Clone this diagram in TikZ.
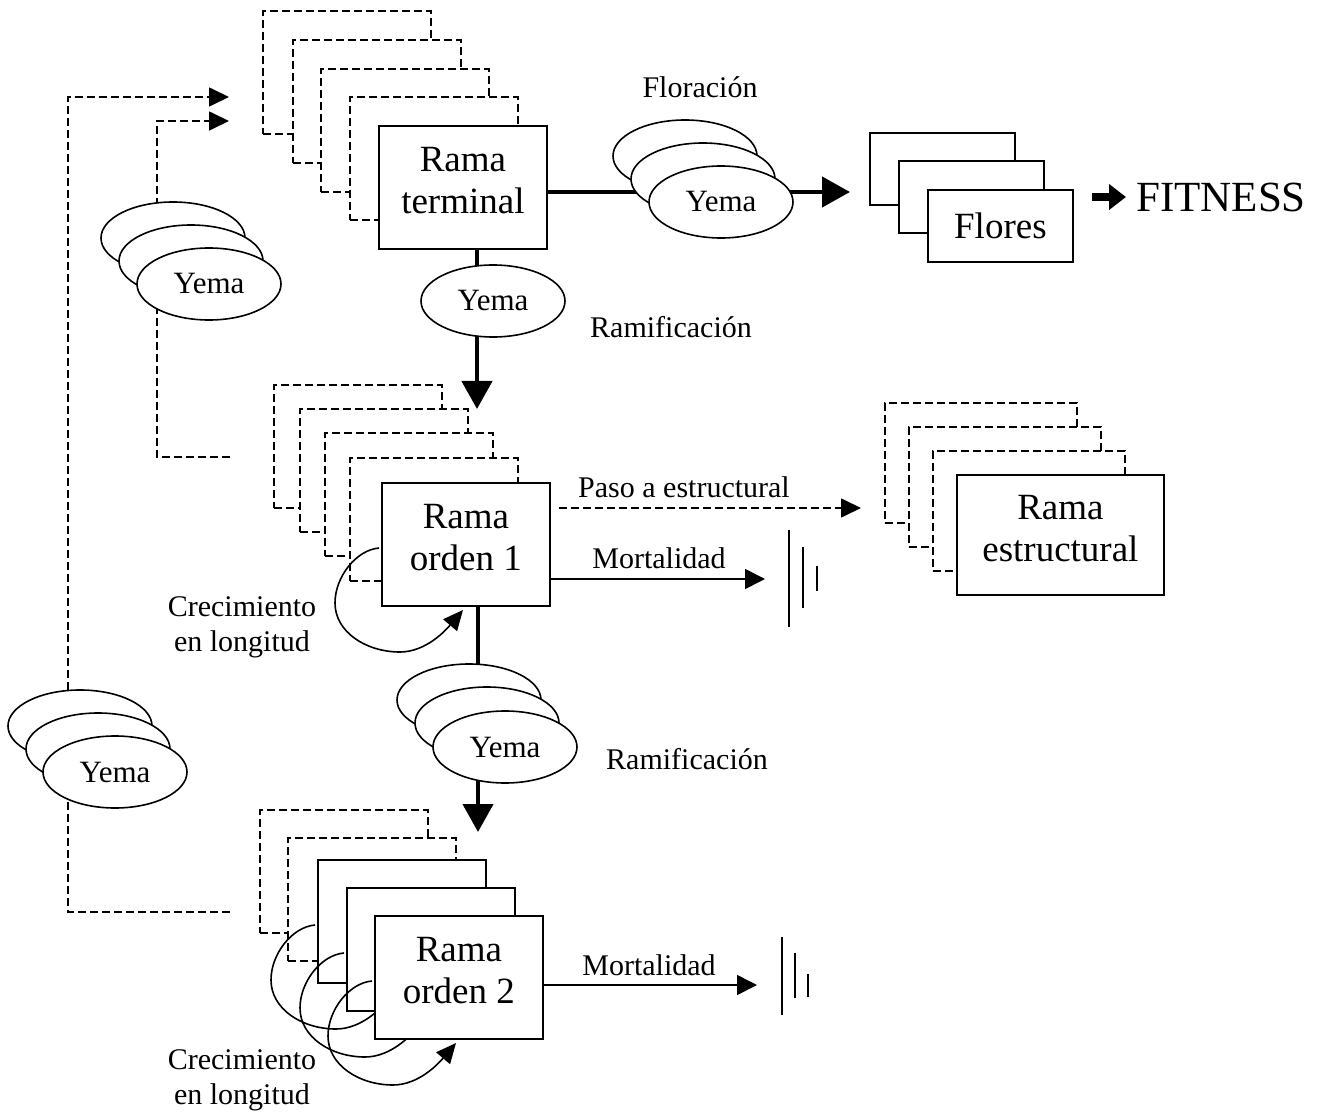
\documentclass[tikz,border=0pt]{standalone}
\usepackage{fontspec}
\setmainfont{Liberation Serif}
\usetikzlibrary{arrows.meta,shapes.geometric}
\newcommand\boxfont{\fontsize{37}{42}\selectfont}
\newcommand\yemafont{\fontsize{31}{36}\selectfont}
\newcommand\lblfont{\fontsize{30}{35}\selectfont}
\newcommand\fitfont{\fontsize{43}{48}\selectfont}
\newcommand\lowpad{\rule[-14pt]{0pt}{14pt}}
\tikzset{
  box/.style={draw, line width=1.8pt, fill=white, minimum width=168pt, minimum height=123pt,
    inner sep=0pt, align=center, font=\boxfont, anchor=north west},
  fbox/.style={box, minimum width=145pt, minimum height=72pt},
  dashpat/.style={line width=1.7pt, dash pattern=on 8pt off 4pt},
  dbox/.style={draw, dashpat, fill=white, minimum width=168pt, minimum height=123pt,
    inner sep=0pt, anchor=north west},
  yema/.style={ellipse, draw, line width=1.6pt, fill=white, minimum width=144pt,
    minimum height=72pt, inner sep=0pt, font=\yemafont},
  lbl/.style={font=\lblfont, inner sep=0pt},
  thk/.style={line width=4.5pt, -{Triangle[length=28pt,width=30pt]}},
  thinarrow/.style={line width=1.6pt, -{Triangle[length=20pt,width=20pt]}},
  dasharrow/.style={dashpat, -{Triangle[length=20pt,width=19pt]}},
  loopline/.style={line width=1.6pt, -{Triangle[length=20pt,width=18pt]}},
  gline/.style={line width=1.6pt},
}
\newcommand\growloop[1]{%
  \begin{scope}[shift={(#1.north west)}]
    \draw[loopline] (-2,66) .. controls (-25,68) and (-46,95) .. (-46,121)
      .. controls (-46,150) and (-15,170) .. (19,170)
      .. controls (45,170) and (65,148) .. (82,128);
  \end{scope}}
\begin{document}
\begin{tikzpicture}[x=1pt,y=-1pt]
\useasboundingbox (0,0) rectangle (1318,1115);

% ---------- Rama terminal group
\node[dbox] (t1) at (262,10) {};
\node[dbox] (t2) at (292,39) {};
\node[dbox] (t3) at (320,68) {};
\node[dbox] (t4) at (349,96) {};
\node[box] (rt) at (378,125) {Rama\\terminal\lowpad};

% ---------- Flores
\node[fbox] (f1) at (869,132) {};
\node[fbox] (f2) at (898,160) {};
\node[fbox] (fl) at (927,189) {Flores};

% ---------- Rama orden 1 group
\node[dbox] (a1) at (273,384) {};
\node[dbox] (a2) at (299,408) {};
\node[dbox] (a3) at (324,432) {};
\node[dbox] (a4) at (349,457) {};
\node[box] (ro1) at (381,482) {Rama\\orden 1\lowpad};
\growloop{ro1}

% ---------- Rama estructural group
\node[dbox, minimum width=192pt, minimum height=120pt] (e1) at (884,402) {};
\node[dbox, minimum width=192pt, minimum height=120pt] (e2) at (908,426) {};
\node[dbox, minimum width=192pt, minimum height=120pt] (e3) at (932,450) {};
\node[box, minimum width=207pt, minimum height=120pt] (re) at (956,474) {Rama\\estructural\lowpad};

% ---------- Rama orden 2 group
\node[dbox] (b1) at (259,809) {};
\node[dbox] (b2) at (287,837) {};
\node[box] (b3) at (317,859) {};
\growloop{b3}
\node[box] (b4) at (346,887) {};
\growloop{b4}
\node[box] (ro2) at (374,915) {Rama\\orden 2\lowpad};
\growloop{ro2}

% ---------- connectors
\coordinate (tipF) at (850,192);
\draw[thk] (rt.east |- tipF) -- (tipF);
\coordinate (tipA) at (477,409);
\draw[thk] (rt.south -| tipA) -- (tipA);
\coordinate (tipB) at (478,832);
\draw[thk] (ro1.south -| tipB) -- (tipB);

\coordinate (m1) at (765,579);
\draw[thinarrow] (ro1.east |- m1) -- (m1);
\coordinate (m2) at (757,985);
\draw[thinarrow] (ro2.east |- m2) -- (m2);
\coordinate (pe) at (861,508);
\draw[dasharrow] ([xshift=8pt]ro1.east |- pe) -- (pe);

\coordinate (la) at (230,912);
\coordinate (lat) at (229,97);
\draw[dasharrow] (la) -- ++(-162,0) |- (lat);
\coordinate (lb) at (230,457);
\coordinate (lbt) at (229,121);
\draw[dasharrow] (lb) -- ++(-73,0) |- (lbt);

% ---------- FITNESS
\node[font=\fitfont, anchor=west, inner sep=0pt] (fit) at (1136,197) {FITNESS};
\coordinate (fa) at (1092,197);
\draw[line width=8pt, -{Triangle[length=17pt,width=25pt]}] (fa) -- ([xshift=-10pt]fit.west);

% ---------- Yema stacks
\node[yema] (ya1) at (173,238) {};
\node[yema] (ya2) at (191,261) {};
\node[yema] (ya3) at (209,284) {Yema};

\node[yema] (yt) at (493,301) {Yema};

\node[yema] (yf1) at (685,156) {};
\node[yema] (yf2) at (703,179) {};
\node[yema] (yf3) at (721,202) {Yema};

\node[yema] (ym1) at (469,700) {};
\node[yema] (ym2) at (487,723) {};
\node[yema] (ym3) at (505,747) {Yema};

\node[yema] (yl1) at (80,726) {};
\node[yema] (yl2) at (98,749) {};
\node[yema] (yl3) at (115,772) {Yema};

% ---------- ground symbols
\draw[gline] (789,530) -- (789,627);
\draw[gline] (803,547) -- (803,608);
\draw[gline] (817,566) -- (817,591);
\draw[gline] (782,937) -- (782,1015);
\draw[gline] (795,953) -- (795,998);
\draw[gline] (808,974) -- (808,997);

% ---------- labels
\node[lbl, anchor=base] (lflo) at (700,98) {Floración};
\node[lbl, anchor=base] (lram1) at (671,338) {Ramificación};
\node[lbl, anchor=base] (lram2) at (687,769) {Ramificación};
\node[lbl, anchor=base] (lpaso) at (684,497) {Paso a estructural};
\node[lbl, anchor=base] (lmo1) at (659,568) {Mortalidad};
\node[lbl, anchor=base] (lmo2) at (649,975) {Mortalidad};
\node[lbl, align=center] (lcr1) at (242,627) {Crecimiento\\en longitud};
\node[lbl, align=center] (lcr2) at (242,1080) {Crecimiento\\en longitud};
\end{tikzpicture}
\end{document}
